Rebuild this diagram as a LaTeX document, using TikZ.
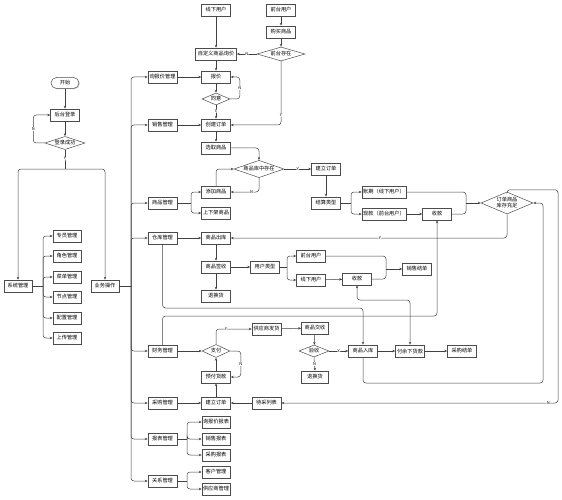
\documentclass[tikz,border=0pt]{standalone}
\usepackage{fontspec}
\newfontfamily\cjk{Noto Sans CJK SC}
\usetikzlibrary{arrows.meta,shapes.geometric,shadows}
\begin{document}
\begin{tikzpicture}[x=1pt,y=-1pt,
  font=\cjk\fontsize{5.2}{6}\selectfont,
  box/.style={draw=black!70,fill=white,line width=0.5pt,minimum width=29pt,minimum height=12pt,inner sep=0.5pt,
    drop shadow={shadow xshift=0.7pt,shadow yshift=-0.7pt,fill=black!35,opacity=0.6}},
  term/.style={box,rounded corners=5.5pt,minimum width=28pt,minimum height=11pt},
  dia/.style={diamond,draw=black!70,fill=white,line width=0.5pt,inner sep=0pt,aspect=2.5},
  line/.style={draw=black!75,line width=0.5pt,rounded corners=3pt},
  arr/.style={line,-{Stealth[length=3pt,width=2.4pt]}},
  arrb/.style={line,{Stealth[length=3pt,width=2.4pt]}-{Stealth[length=3pt,width=2.4pt]}},
  lbl/.style={fill=white,inner sep=0.4pt,font=\cjk\fontsize{4}{4}\selectfont}]
\useasboundingbox (0,0) rectangle (562,500);

% ---------- left part ----------
\node[term] (start) at (65,83) {开始};
\node[box] (login) at (65,115) {后台登录};
\node[dia,minimum width=40pt,minimum height=13pt] (loginok) at (65,143) {登录成功};
\node[box,minimum width=28pt] (sys) at (18,286) {系统管理};
\node[box,minimum width=28pt] (biz) at (105,286) {业务操作};
\node[box,minimum width=28pt] (s1) at (67,236) {专员管理};
\node[box,minimum width=28pt] (s2) at (67,256) {角色管理};
\node[box,minimum width=28pt] (s3) at (67,277) {菜单管理};
\node[box,minimum width=28pt] (s4) at (67,297) {节点管理};
\node[box,minimum width=28pt] (s5) at (67,318) {配置管理};
\node[box,minimum width=28pt] (s6) at (67,338) {上传管理};

\coordinate (split) at (65,169);
\coordinate (sb) at (43,286);
\coordinate (bus) at (131,286);

\draw[arr] (start) -- (login);
\draw[arr] (login) -- (loginok);
\draw[arr] (loginok.west) -| ([xshift=-17pt]login.west) node[lbl,pos=0.75] (ln1) {N} -- (login.west);
\draw[line] (loginok.south) -- (split) node[lbl,pos=0.45] (ly1) {Y};
\draw[arr] (split) -| (sys.north);
\draw[arr] (split) -| (biz.north);
\draw[line] (sys.east) -- (sb);
\foreach \s in {s1,s2,s3,s4,s5,s6} \draw[arr] (sb) |- (\s.west);
\draw[line] (biz.east) -- (bus);

% ---------- modules ----------
\node[box] (m1) at (162.5,77) {询报价管理};
\node[box] (m2) at (162.5,125) {销售管理};
\node[box] (m3) at (162.5,203) {商品管理};
\node[box] (m4) at (162.5,238) {仓库管理};
\node[box] (m5) at (162.5,351) {财务管理};
\node[box] (m6) at (162.5,403) {采购管理};
\node[box] (m7) at (162.5,439) {报表管理};
\node[box] (m8) at (162.5,481) {关系管理};
\foreach \m in {m1,m2,m3,m4,m5,m6,m7,m8} \draw[arr] (bus) |- (\m.west);

% ---------- inquiry / sales ----------
\node[box] (xx) at (216,10) {线下用户};
\node[box] (fu) at (281,10) {前台用户};
\node[box] (buy) at (281,32) {购买商品};
\node[dia,minimum width=48pt,minimum height=14pt] (exists) at (281,54) {前台存在};
\node[box,minimum width=41pt] (cust) at (216,54) {自定义商品询价};
\node[box] (quote) at (216,77) {报价};
\node[dia,minimum width=28pt,minimum height=12pt] (agree) at (216,99) {同意};
\node[box] (co) at (216,125) {创建订单};
\node[box] (pick) at (216,148) {选取商品};
\node[dia,minimum width=50pt,minimum height=14pt] (exist2) at (259,169) {商品库中存在};
\node[box] (add) at (216,192) {添加商品};
\node[box] (shelf) at (216,213) {上下架商品};
\node[box] (neworder) at (326,169) {建立订单};
\node[box] (settle) at (326,203) {结算类型};
\node[box,minimum width=44pt] (credit) at (384,192) {账期（线下用户）};
\node[box,minimum width=44pt] (cash) at (384,214) {现款（前台用户）};
\node[box] (recv1) at (437,214) {收款};
\node[dia,minimum width=52pt,minimum height=22pt,align=center] (stock) at (507,203) {订单商品\\库存充足};

\draw[arr] (xx) -- (cust);
\draw[arr] (fu) -- (buy);
\draw[arr] (buy) -- (exists);
\draw[arr] (exists.west) -- (cust.east) node[lbl,midway] (ln2) {N};
\draw[arr] (cust) -- (quote);
\draw[arr] (m1) -- (quote);
\draw[arr] (quote) -- (agree);
\draw[arr] (agree.east) -| ([xshift=9pt]quote.east) node[lbl,pos=0.75] (ln3) {N} -- (quote.east);
\draw[arr] (agree.south) -- (co.north) node[lbl,pos=0.4] (ly2) {Y};
\draw[arr] (m2) -- (co);
\draw[arr] (exists.south) |- (co.east) node[lbl,pos=0.42] (ly3) {Y};
\draw[arr] (co) -- (pick);
\draw[arr] (pick.east) -| (exist2.north);
\draw[arr] (exist2.east) -- (neworder.west) node[lbl,midway] (ly4) {Y};
\draw[arr] (exist2.south) |- (add.east) node[lbl,pos=0.63] (ln4) {N};
\draw[arr] (add.north) |- (exist2.west);
\coordinate (b3) at (191,203);
\draw[line] (m3.east) -- (b3);
\draw[arr] (b3) |- (add.west);
\draw[arr] (b3) |- (shelf.west);
\draw[arr] (neworder) -- (settle);
\coordinate (b4) at (351,203);
\draw[line] (settle.east) -- (b4);
\draw[arr] (b4) |- (credit.west);
\draw[arr] (b4) |- (cash.west);
\draw[arr] (cash) -- (recv1);
\coordinate (mg1) at (466,203);
\draw[line] (credit.east) -| (mg1);
\draw[line] (recv1.east) -| (mg1);
\draw[arr] (mg1) -- (stock.west);

% ---------- warehouse ----------
\node[box] (out) at (216,238) {商品出库};
\node[box] (sign) at (216,267) {商品签收};
\node[box] (ret1) at (216,296) {退换货};
\node[box] (utype) at (265,267) {用户类型};
\node[box] (fu2) at (311,256) {前台用户};
\node[box] (xx2) at (311,280) {线下用户};
\node[box] (recv2) at (357,279) {收款};
\node[box] (sold) at (417,269) {销售结单};

\draw[arr] (stock.south) |- (out.east) node[lbl,pos=0.73] (ly5) {Y};
\draw[arr] (m4) -- (out);
\draw[arr] (out) -- (sign);
\draw[arr] (sign) -- (ret1);
\draw[arr] (sign) -- (utype);
\coordinate (b5) at (287,267);
\draw[line] (utype.east) -- (b5);
\draw[arr] (b5) |- (fu2.west);
\draw[arr] (b5) |- (xx2.west);
\draw[arr] (xx2) -- (recv2);
\coordinate (mg2) at (386,269);
\draw[line] (fu2.east) -| (mg2);
\draw[line] (recv2.east) -| (mg2);
\draw[arr] (mg2) -- (sold.west);

% ---------- finance / purchase ----------
\node[dia,minimum width=28pt,minimum height=13pt] (pay) at (216,351) {支付};
\node[box] (prep) at (216,377) {预付货款};
\node[box] (po) at (216,403) {建立订单};
\node[box] (supply) at (266.5,329) {供应商发货};
\node[box,minimum width=27pt] (deliver) at (315,328) {商品交收};
\node[dia,minimum width=30pt,minimum height=12pt] (check) at (314,351) {验收};
\node[box,minimum width=27pt] (ret2) at (315,377) {退换货};
\node[box] (instock) at (363,351) {商品入库};
\node[box] (payrest) at (410,351) {付余下货款};
\node[box] (poend) at (462,351) {采购结单};
\node[box] (wait) at (266.5,403) {待采列表};

\coordinate (w1) at (363,308);
\coordinate (f1) at (437,316);
\coordinate (p1) at (410,300);
\coordinate (ir) at (543,383);
\coordinate (rr) at (558,403);

\draw[arr] (m4.south) |- (w1) -- (instock.north);
\draw[arr] (m5.north) |- (f1) -- (recv1.south);
\draw[arrb] (recv2.south) |- (p1) -- (payrest.north);
\draw[arr] (m5) -- (pay);
\draw[arr] (pay.north) |- (supply.west) node[lbl,pos=0.64] (ly6) {Y};
\draw[arr] (pay.east) -| ([xshift=10pt]prep.east) node[lbl,pos=0.75] (ln5) {N} -- (prep.east);
\draw[arr] (prep) -- (pay);
\draw[arr] (po) -- (prep);
\draw[arr] (m6) -- (po);
\draw[arr] (wait) -- (po);
\draw[arr] (supply) -- (deliver);
\draw[arr] (deliver) -- (check);
\draw[arr] (check.east) -- (instock.west) node[lbl,midway] (ly7) {Y};
\draw[arr] (check.south) -- (ret2.north) node[lbl,midway] (ln6) {N};
\draw[arr] (instock) -- (payrest);
\draw[arr] (payrest) -- (poend);
\draw[arr] (instock.south) |- (ir) |- (stock.east);
\draw[arr] (stock.north) -- ++(0,-2) -| (rr) -- node[lbl,pos=0.035] (ln7) {N} (wait.east);

% ---------- reports / relations ----------
\node[box,minimum width=28pt] (r1) at (216,422) {询报价报表};
\node[box,minimum width=28pt] (r2) at (216,439) {销售报表};
\node[box,minimum width=28pt] (r3) at (216,455) {采购报表};
\node[box,minimum width=28pt] (c1) at (216,472) {客户管理};
\node[box,minimum width=28pt] (c2) at (216,489) {供应商管理};
\coordinate (b7) at (187,439);
\coordinate (b8) at (187,481);
\draw[line] (m7.east) -- (b7);
\foreach \r in {r1,r2,r3} \draw[arr] (b7) |- (\r.west);
\draw[line] (m8.east) -- (b8);
\foreach \c in {c1,c2} \draw[arr] (b8) |- (\c.west);
\end{tikzpicture}
\end{document}
